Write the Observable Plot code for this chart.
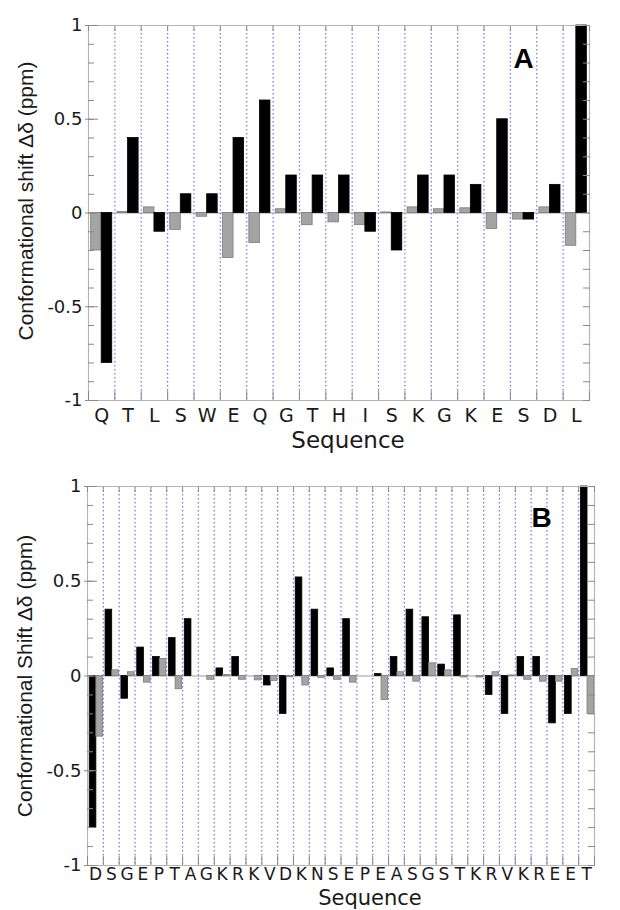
<!DOCTYPE html>
<html>
<head>
<meta charset="utf-8">
<script src="https://cdn.jsdelivr.net/npm/d3@7"></script>
<script src="https://cdn.jsdelivr.net/npm/@observablehq/plot@0.6"></script>
<style>
  html, body { margin: 0; padding: 0; background: #fff; }
  #chart { width: 620px; }
  #chart svg { display: block; }
</style>
</head>
<body>
<div id="chart"></div>
<script>
// ---------- Panel A ----------
const seqA = ["Q","T","L","S","W","E","Q","G","T","H","I","S","K","G","K","E","S","D","L"];
const grayA = [-0.20, 0.005, 0.03, -0.09, -0.02, -0.24, -0.16, 0.02, -0.065, -0.05, -0.065, 0.003, 0.03, 0.02, 0.025, -0.085, -0.035, 0.03, -0.175];
const blackA = [-0.80, 0.40, -0.10, 0.10, 0.10, 0.40, 0.60, 0.20, 0.20, 0.20, -0.10, -0.20, 0.20, 0.20, 0.15, 0.50, -0.035, 0.15, 1.00];

// ---------- Panel B ----------
const seqB = ["D","S","G","E","P","T","A","G","K","R","K","V","D","K","N","S","E","P","E","A","S","G","S","T","K","R","V","K","R","E","E","T"];
const blackB = [-0.80, 0.35, -0.12, 0.15, 0.10, 0.20, 0.30, 0, 0.04, 0.10, 0, -0.05, -0.20, 0.52, 0.35, 0.04, 0.30, 0, 0.01, 0.10, 0.35, 0.31, 0.06, 0.32, 0, -0.10, -0.20, 0.10, 0.10, -0.25, -0.20, 1.00];
const grayB = [-0.32, 0.03, 0.02, -0.035, 0.09, -0.07, 0, -0.02, 0.005, -0.02, -0.023, -0.026, -0.007, -0.05, -0.01, -0.02, -0.035, 0, -0.127, 0.02, -0.03, 0.067, 0.03, -0.008, -0.008, 0.02, 0.003, -0.02, -0.03, -0.03, 0.037, -0.20];

const yMajor = [-1, -0.5, 0, 0.5, 1];
const yMinor = d3.range(-10, 11).map(i => i / 10);

const GRAY_FILL = "#a4a4a4", GRAY_STROKE = "#7c7c7c";
const DOT = "#5a5af0";

function panel(opts) {
  const {seq, series, height, margins, letter, letterDx, letterDy, ylabel, ylabelDy, xlabelDx, xlabelDy, xlabelSize, tickDy, tickFont} = opts;
  const N = seq.length;
  const rows = [];
  series.forEach(s => s.values.forEach((v, i) => rows.push({x1: i + s.o1, x2: i + s.o2, v, kind: s.kind})));
  const bounds = d3.range(0, N + 1);
  const centers = d3.range(N).map(i => i + 0.5);
  const blank = () => "";
  return Plot.plot({
    width: 620,
    height,
    marginLeft: margins[0], marginRight: margins[1], marginTop: margins[2], marginBottom: margins[3],
    style: {fontFamily: "DejaVu Sans, Liberation Sans, sans-serif", background: "#fff", color: "#1a1a1a"},
    x: {domain: [0, N], axis: null},
    y: {domain: [-1, 1], axis: null},
    marks: [
      Plot.ruleX(bounds, {stroke: DOT, strokeWidth: 1.2, strokeDasharray: "1.5,2.5", strokeOpacity: 0.85}),
      Plot.ruleY([0], {stroke: "#9a9a9a", strokeWidth: 1}),
      Plot.rectY(rows, {
        x1: "x1", x2: "x2", y1: 0, y2: "v",
        fill: d => d.kind === "black" ? "#000" : GRAY_FILL,
        stroke: d => d.kind === "black" ? "#000" : GRAY_STROKE,
        strokeWidth: 0.8
      }),
      Plot.frame({stroke: "#b4b4b4", strokeWidth: 1}),
      // inward minor ticks, both sides
      Plot.axisY({anchor: "left", ticks: yMinor, tickSize: 6, dx: 6, tickFormat: blank, label: null, stroke: "#8a8a8a"}),
      Plot.axisY({anchor: "right", ticks: yMinor, tickSize: 7, dx: -7, tickFormat: blank, label: null, stroke: "#8a8a8a"}),
      // major ticks crossing the left axis
      Plot.axisY({anchor: "left", ticks: yMajor, tickSize: 13, dx: 10, tickFormat: blank, label: null, stroke: "#8a8a8a"}),
      // y tick labels
      Plot.axisY({anchor: "left", ticks: yMajor, tickSize: 0, tickPadding: 6, tickFormat: d => String(d), label: null, fontSize: 18, fill: "#1a1a1a"}),
      // x ticks at slot boundaries
      Plot.axisX({anchor: "bottom", ticks: bounds, tickSize: 9, dy: -9, tickFormat: blank, label: null, stroke: "#8a8a8a"}),
      Plot.axisX({anchor: "top", ticks: bounds, tickSize: 5, dy: 5, tickFormat: blank, label: null, stroke: "#8a8a8a"}),
      // x tick labels (residues)
      Plot.axisX({anchor: "bottom", ticks: centers, tickSize: 0, tickPadding: tickDy, tickFormat: d => seq[Math.floor(d)], label: null, fontSize: tickFont, fill: "#1a1a1a"}),
      Plot.text(["Sequence"], {frameAnchor: "bottom", dx: xlabelDx, dy: xlabelDy, fontSize: xlabelSize, fill: "#1a1a1a", textAnchor: "middle", lineAnchor: "middle"}),
      Plot.text([ylabel], {frameAnchor: "left", rotate: -90, dx: -62, dy: ylabelDy, fontSize: 21, fontFamily: "Liberation Sans, Arial, sans-serif", fill: "#1a1a1a", textAnchor: "middle", lineAnchor: "middle"}),
      Plot.text([letter], {frameAnchor: "top-right", dx: letterDx, dy: letterDy, fontSize: 28, fontWeight: "bold", fontFamily: "Liberation Sans, Arial, sans-serif", fill: "#000", textAnchor: "middle", lineAnchor: "middle"})
    ]
  });
}

const chart = document.getElementById("chart");
chart.appendChild(panel({
  seq: seqA,
  series: [
    {kind: "gray", values: grayA, o1: 0.10, o2: 0.50},
    {kind: "black", values: blackA, o1: 0.50, o2: 0.90}
  ],
  height: 460,
  margins: [88, 31, 25, 60],
  letter: "A", letterDx: -66, letterDy: 34,
  ylabel: "Conformational shift Δδ (ppm)", ylabelDy: -12,
  xlabelDx: 9, xlabelDy: 40, xlabelSize: 23, tickDy: 8, tickFont: 19
}));
chart.appendChild(panel({
  seq: seqB,
  series: [
    {kind: "black", values: blackB, o1: 0.14, o2: 0.56},
    {kind: "gray", values: grayB, o1: 0.56, o2: 0.98}
  ],
  height: 450,
  margins: [87, 26, 26, 45],
  letter: "B", letterDx: -53, letterDy: 32,
  ylabel: "Conformational Shift Δδ (ppm)", ylabelDy: 0,
  xlabelDx: 29, xlabelDy: 33, xlabelSize: 21, tickDy: 2, tickFont: 17
}));
</script>
</body>
</html>
